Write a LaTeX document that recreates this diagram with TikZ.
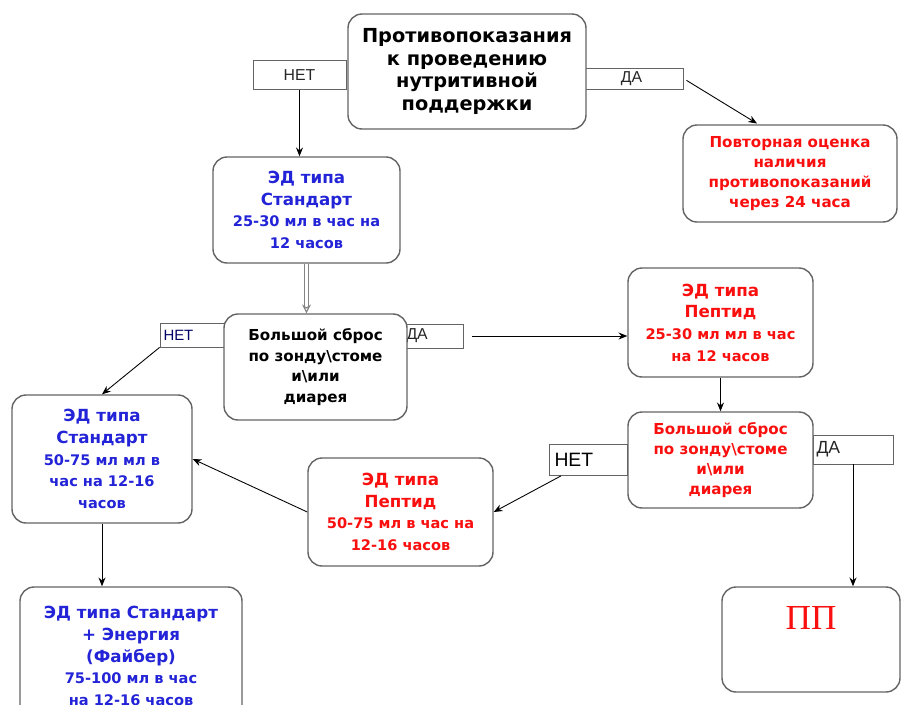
\documentclass[tikz,border=0pt]{standalone}
\usepackage{fontspec}
\setmainfont{DejaVu Sans}
\newfontfamily\tagfont{Liberation Sans}
\newfontfamily\serifpp{Liberation Serif}
\usepackage{tikz}
\usetikzlibrary{arrows.meta}
\definecolor{edblue}{RGB}{35,35,215}
\definecolor{edred}{RGB}{250,15,15}
\definecolor{frame}{RGB}{100,100,100}
\newcommand{\edrate}[1]{{\fontsize{8.3}{10}\selectfont #1}}

\begin{document}
\begin{tikzpicture}[
		box/.style={draw=frame, line width=0.8pt, rounded corners=8pt, fill=white, align=center,
			inner sep=2pt, font=\bfseries\fontsize{9.5}{12.3}\selectfont},
		tag/.style={draw=frame, line width=0.5pt, fill=white, inner sep=2pt,
			font=\tagfont\fontsize{9}{10}\selectfont, text=black!85},
		every edge/.style={draw, line width=0.5pt, -{Stealth[length=5pt, width=4pt]}},
		dbl/.style={draw=frame!80, double=white, double distance=1.2pt, line width=0.6pt,
			-{Stealth[open, length=5pt, width=5pt]}}
	]
  \useasboundingbox (0cm, 0cm) rectangle (18.04cm, -14.08cm);
  \clip (0cm, 0cm) rectangle (18.04cm, -14.08cm);
  % labels first, boxes lie over them
  \node (no_1) [tag, minimum width=1.86cm, minimum height=0.58cm] at (5.99cm, -1.50cm) {НЕТ};
  \node (yes_1) [tag, minimum width=2.06cm, minimum height=0.4cm] at (12.63cm, -1.57cm) {ДА};
  \node (no_2) [tag, minimum width=1.44cm, minimum height=0.48cm, text width=1.3cm, font=\tagfont\fontsize{8.5}{10}\selectfont, text=black!60!blue] at (3.92cm, -6.70cm) {НЕТ};
  \node (yes_2) [tag, minimum width=1.2cm, minimum height=0.48cm, text width=1.06cm] at (8.66cm, -6.72cm) {ДА};
  \node (yes_3) [tag, minimum width=1.6cm, minimum height=0.58cm, text width=1.46cm, font=\tagfont\fontsize{10}{11}\selectfont] at (17.06cm, -8.99cm) {ДА};
  \node (no_3) [tag, minimum width=1.56cm, minimum height=0.62cm, text width=1.36cm, font=\tagfont\fontsize{11}{12}\selectfont, text=black] at (11.77cm, -9.20cm) {НЕТ};

  \node (ask) [box, minimum width=4.76cm, minimum height=2.3cm, font=\bfseries\fontsize{11}{12.9}\selectfont] at (9.34cm, -1.43cm)
    {Противопоказания\\к проведению\\нутритивной\\поддержки};
  \node (recheck) [box, text=edred, minimum width=4.28cm, minimum height=1.94cm, font=\bfseries\fontsize{8.6}{11.3}\selectfont] at (15.8cm, -3.47cm)
    {Повторная оценка\\наличия\\противопоказаний\\через 24 часа};
  \node (st_1) [box, text=edblue, minimum width=3.74cm, minimum height=2.12cm] at (6.13cm, -4.2cm)
    {ЭД типа\\Стандарт\\\edrate{25-30 мл в час на}\\\edrate{12 часов}};
  \node (drain_1) [box, minimum width=3.66cm, minimum height=2.12cm, font=\bfseries\fontsize{8.6}{11.8}\selectfont] at (6.31cm, -7.34cm)
    {Большой сброс\\по зонду\textbackslash стоме\\и\textbackslash или\\диарея};
  \node (pep_1) [box, text=edred, minimum width=3.7cm, minimum height=2.18cm] at (14.41cm, -6.45cm)
    {ЭД типа\\Пептид\\\edrate{25-30 мл мл в час}\\\edrate{на 12 часов}};
  \node (drain_2) [box, text=edred, minimum width=3.7cm, minimum height=1.92cm, font=\bfseries\fontsize{8.6}{11.3}\selectfont] at (14.41cm, -9.2cm)
    {Большой сброс\\по зонду\textbackslash стоме\\и\textbackslash или\\диарея};
  \node (pep_2) [box, text=edred, minimum width=3.7cm, minimum height=2.16cm] at (8.01cm, -10.24cm)
    {ЭД типа\\Пептид\\\edrate{50-75 мл в час на}\\\edrate{12-16 часов}};
  \node (st_2) [box, text=edblue, minimum width=3.6cm, minimum height=2.56cm] at (2.04cm, -9.18cm)
    {ЭД типа\\Стандарт\\\edrate{50-75 мл мл в}\\\edrate{час на 12-16}\\\edrate{часов}};
  \node (st_en) [box, text=edblue, minimum width=4.44cm, minimum height=2.76cm] at (2.62cm, -13.12cm)
    {ЭД типа Стандарт\\+ Энергия\\(Файбер)\\\edrate{75-100 мл в час}\\\edrate{на 12-16 часов}};
  \node (pp) [box, text=edred, minimum width=3.56cm, minimum height=2.1cm, font=\serifpp\fontsize{20}{20}\selectfont,
    text height=0.5cm, text depth=0.9cm] at (16.22cm, -12.79cm) {ПП};

  \draw (no_1.south) edge (no_1.south |- st_1.north);
  \draw (yes_1.east) edge [shorten <=2pt] (15.14cm, -2.47cm);
  \draw [dbl] (st_1.south) -- (st_1.south |- drain_1.north);
  \draw (no_2.south west) edge (st_2.north);
  \draw (yes_2.east) edge [shorten <=0.18cm] (pep_1.west |- yes_2.east);
  \draw (pep_1.south) edge (pep_1.south |- drain_2.north);
  \draw (yes_3.south) edge (yes_3.south |- pp.north);
  \draw (no_3.210) edge (pep_2.east);
  \draw (pep_2.west) edge (st_2.east);
  \draw (st_2.south) edge (st_2.south |- st_en.north);
\end{tikzpicture}
\end{document}
